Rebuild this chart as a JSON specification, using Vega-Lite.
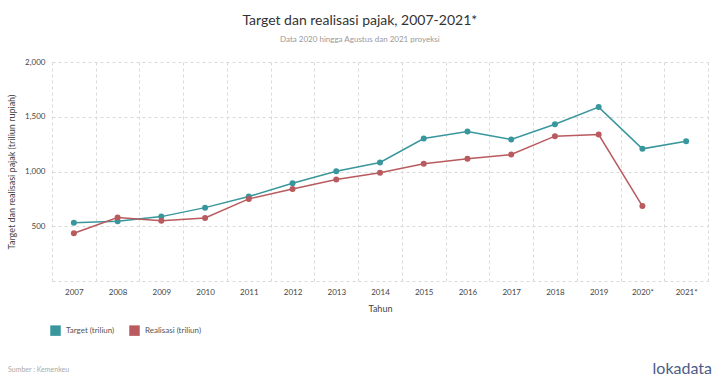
{
  "$schema": "https://vega.github.io/schema/vega-lite/v6.json",
  "autosize": {"type": "none"},
  "width": 656,
  "height": 219,
  "padding": {"left": 52, "top": 62, "right": 6, "bottom": 95},
  "background": "white",
  "config": {
    "font": "Lato",
    "view": {"stroke": null},
    "axis": {"gridDash": [3, 3], "gridColor": "#d9d9d9", "gridWidth": 1, "domain": false, "ticks": false, "labelColor": "#444", "titleColor": "#444", "titleFontWeight": "normal", "labelFontSize": 8, "titleFontSize": 9, "labelFont": "Lato", "titleFont": "Lato"},
    "legend": {"title": null, "orient": "none", "legendX": -2, "legendY": 263, "direction": "horizontal", "symbolType": "square", "symbolSize": 110, "symbolOpacity": 1, "symbolStrokeWidth": 0, "labelFontSize": 8, "labelColor": "#555", "labelFont": "Lato", "columnPadding": 14, "labelOffset": 5}
  },
  "title": {
    "text": "Target dan realisasi pajak, 2007-2021*",
    "subtitle": "Data 2020 hingga Agustus dan 2021 proyeksi",
    "fontSize": 14,
    "fontWeight": "normal",
    "color": "#333",
    "subtitleFontSize": 8,
    "subtitleColor": "#999",
    "subtitlePadding": 8,
    "anchor": "middle",
    "frame": "bounds",
    "offset": 14
  },
  "datasets": {
    "pajak": [
      {"tahun": "2007", "seri": "Target (triliun)", "nilai": 533},
      {"tahun": "2008", "seri": "Target (triliun)", "nilai": 546},
      {"tahun": "2009", "seri": "Target (triliun)", "nilai": 588},
      {"tahun": "2010", "seri": "Target (triliun)", "nilai": 670},
      {"tahun": "2011", "seri": "Target (triliun)", "nilai": 771},
      {"tahun": "2012", "seri": "Target (triliun)", "nilai": 893},
      {"tahun": "2013", "seri": "Target (triliun)", "nilai": 1003},
      {"tahun": "2014", "seri": "Target (triliun)", "nilai": 1082},
      {"tahun": "2015", "seri": "Target (triliun)", "nilai": 1301},
      {"tahun": "2016", "seri": "Target (triliun)", "nilai": 1366},
      {"tahun": "2017", "seri": "Target (triliun)", "nilai": 1292},
      {"tahun": "2018", "seri": "Target (triliun)", "nilai": 1432},
      {"tahun": "2019", "seri": "Target (triliun)", "nilai": 1588},
      {"tahun": "2020*", "seri": "Target (triliun)", "nilai": 1207},
      {"tahun": "2021*", "seri": "Target (triliun)", "nilai": 1277},
      {"tahun": "2007", "seri": "Realisasi (triliun)", "nilai": 436},
      {"tahun": "2008", "seri": "Realisasi (triliun)", "nilai": 579},
      {"tahun": "2009", "seri": "Realisasi (triliun)", "nilai": 551},
      {"tahun": "2010", "seri": "Realisasi (triliun)", "nilai": 576},
      {"tahun": "2011", "seri": "Realisasi (triliun)", "nilai": 750},
      {"tahun": "2012", "seri": "Realisasi (triliun)", "nilai": 841},
      {"tahun": "2013", "seri": "Realisasi (triliun)", "nilai": 926},
      {"tahun": "2014", "seri": "Realisasi (triliun)", "nilai": 988},
      {"tahun": "2015", "seri": "Realisasi (triliun)", "nilai": 1070},
      {"tahun": "2016", "seri": "Realisasi (triliun)", "nilai": 1116},
      {"tahun": "2017", "seri": "Realisasi (triliun)", "nilai": 1155},
      {"tahun": "2018", "seri": "Realisasi (triliun)", "nilai": 1323},
      {"tahun": "2019", "seri": "Realisasi (triliun)", "nilai": 1338},
      {"tahun": "2020*", "seri": "Realisasi (triliun)", "nilai": 684}
    ],
    "catatan": [
      {"teks": "Sumber : Kemenkeu", "tahun": "2007", "nilai": -830}
    ],
    "logo": [
      {"teks": "lokadata", "tahun": "2021*", "nilai": -848}
    ]
  },
  "layer": [
    {
      "data": {"name": "pajak"},
      "mark": {"type": "line", "strokeWidth": 1.5},
      "encoding": {
        "x": {
          "field": "tahun", "type": "ordinal",
          "scale": {"type": "band", "paddingInner": 0, "paddingOuter": 0},
          "axis": {"title": "Tahun", "labelAngle": 0, "tickBand": "extent", "grid": true, "labelPadding": 7, "titlePadding": 8}
        },
        "y": {
          "field": "nilai", "type": "quantitative",
          "scale": {"domain": [0, 2000], "nice": false, "zero": true},
          "axis": {"title": "Target dan realisasi pajak (triliun rupiah)", "values": [0, 500, 1000, 1500, 2000], "labelExpr": "datum.value == 0 ? '' : format(datum.value, ',')", "labelPadding": 7, "titlePadding": 8}
        },
        "color": {
          "field": "seri", "type": "nominal",
          "scale": {"domain": ["Target (triliun)", "Realisasi (triliun)"], "range": ["#38979c", "#b85a5e"]}
        }
      }
    },
    {
      "data": {"name": "pajak"},
      "mark": {"type": "point", "filled": true, "size": 36, "opacity": 1},
      "encoding": {
        "x": {"field": "tahun", "type": "ordinal"},
        "y": {"field": "nilai", "type": "quantitative"},
        "color": {"field": "seri", "type": "nominal"}
      }
    },
    {
      "data": {"name": "catatan"},
      "mark": {"type": "text", "align": "left", "baseline": "alphabetic", "fontSize": 7, "color": "#aaa", "dx": -44},
      "encoding": {
        "text": {"field": "teks"},
        "x": {"field": "tahun", "type": "ordinal", "bandPosition": 0},
        "y": {"field": "nilai", "type": "quantitative"}
      }
    },
    {
      "data": {"name": "logo"},
      "mark": {"type": "text", "align": "right", "baseline": "alphabetic", "fontSize": 16, "color": "#4b5c87", "dx": 4},
      "encoding": {
        "text": {"field": "teks"},
        "x": {"field": "tahun", "type": "ordinal", "bandPosition": 1},
        "y": {"field": "nilai", "type": "quantitative"}
      }
    }
  ]
}
